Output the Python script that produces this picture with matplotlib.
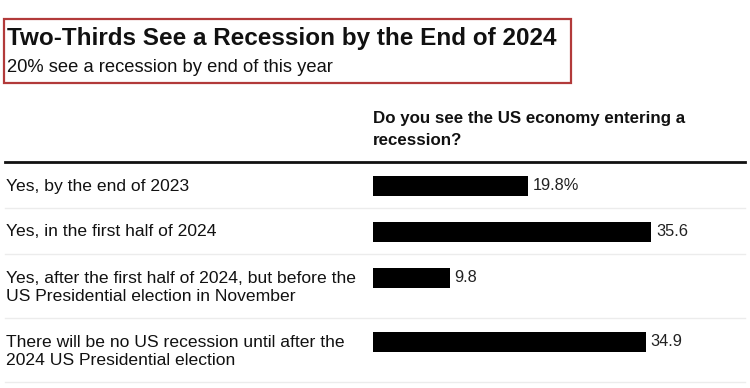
import matplotlib.pyplot as plt
from matplotlib.patches import Rectangle

plt.rcParams['font.family'] = ['Liberation Sans', 'DejaVu Sans']

# Survey answers and share of respondents (%)
answers = [
    "Yes, by the end of 2023",
    "Yes, in the first half of 2024",
    "Yes, after the first half of 2024, but before the\nUS Presidential election in November",
    "There will be no US recession until after the\n2024 US Presidential election",
]
shares = [19.8, 35.6, 9.8, 34.9]
value_labels = ["19.8%", "35.6", "9.8", "34.9"]

title = "Two-Thirds See a Recession by the End of 2024"
subtitle = "20% see a recession by end of this year"
question = "Do you see the US economy entering a\nrecession?"

W, H = 750, 388
fig = plt.figure(figsize=(W / 100, H / 100), dpi=100)

def fx(px):
    return px / W

def fy(py):
    return 1 - py / H

# header box
fig.patches.append(Rectangle((fx(4), fy(83)), fx(567), 64 / H, transform=fig.transFigure,
                             fill=False, edgecolor='#b23a3a', linewidth=1.6))
fig.text(fx(7), fy(38), title, fontsize=17.5, fontweight='bold', color='#111111', va='center')
fig.text(fx(7), fy(68), subtitle, fontsize=13.2, color='#111111', va='center')
fig.text(fx(373), fy(129.5), question, fontsize=12.2, fontweight='bold', color='#111111',
         va='center', linespacing=1.6)

# row layout (pixel heights), taller rows for two-line answers
row_top = 162
rows = []
y = row_top
for a in answers:
    h = 64 if "\n" in a else 46
    rows.append((y, h))
    y += h

# bar axes covering the table area, y in pixel units from the top
ax = fig.add_axes([fx(373), 0, fx(372), (H - row_top) / H])
ax.set_ylim(H, row_top)
ax.set_xlim(0, 372 / 7.82)
ax.axis('off')

centers = [top + 24 for top, h in rows]
ax.barh(centers, shares, height=20, color='black')
for c, v, lab in zip(centers, shares, value_labels):
    ax.text(v + 0.6, c, lab, va='center', ha='left', fontsize=11.8, color='#222222')

# row labels and separators
for (top, h), c, a in zip(rows, centers, answers):
    yy = c + (9.5 if "\n" in a else 0)
    fig.text(fx(6), fy(yy), a, fontsize=12.6, color='#111111', va='center', linespacing=1.25)
    fig.add_artist(plt.Line2D([fx(5), fx(745)], [fy(top + h), fy(top + h)],
                              color='#ececec', linewidth=1))

fig.add_artist(plt.Line2D([fx(5), fx(745)], [fy(row_top), fy(row_top)],
                          color='#111111', linewidth=2))

fig.savefig('out.png', dpi=100, facecolor='white')
